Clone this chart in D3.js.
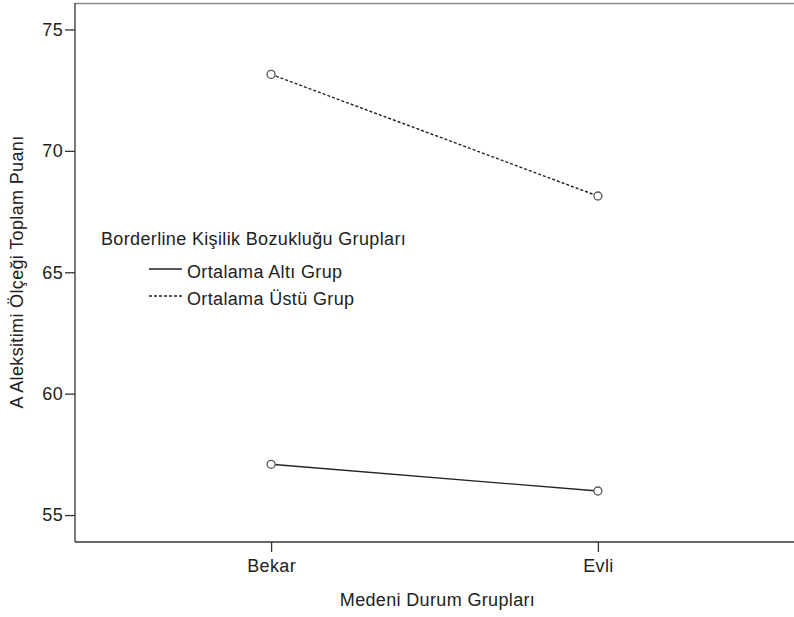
<!DOCTYPE html>
<html><head><meta charset="utf-8">
<script src="https://cdn.jsdelivr.net/npm/d3@7"></script>
<style>body{margin:0;background:#fff}svg{display:block}text{font-family:"Liberation Sans",Arial,sans-serif;fill:#222;letter-spacing:0.35px}</style>
</head><body><svg id="c" width="794" height="617"></svg>
<script>
const categories = ["Bekar", "Evli"];
const seriesNames = ["Ortalama Altı Grup", "Ortalama Üstü Grup"];
const altiValues = [57.09, 55.99];
const ustuValues = [73.15, 68.14];
const yTicks = [55, 60, 65, 70, 75];
const legendTitle = "Borderline Kişilik Bozukluğu Grupları";
const xTitle = "Medeni Durum Grupları";
const yTitle = "A Aleksitimi Ölçeği Toplam Puanı";

const FS = 18;
const svg = d3.select("#c");
const L = 75, R = 794, T = 3, B = 542;
const x = d3.scalePoint().domain(categories).range([L, R]).padding(0.6);
const y = d3.scaleLinear().domain([53.89, 76.09]).range([B, T]);

// top border
svg.append("line").attr("x1", L).attr("x2", R).attr("y1", T + 0.5).attr("y2", T + 0.5)
  .attr("stroke", "#888").attr("stroke-width", 1.5);

const ya = svg.append("g").attr("transform", `translate(${L},0)`)
  .call(d3.axisLeft(y).tickValues(yTicks).tickSize(10).tickPadding(2).tickSizeOuter(0));
const xa = svg.append("g").attr("transform", `translate(0,${B})`)
  .call(d3.axisBottom(x).tickSize(10).tickPadding(5).tickSizeOuter(0));
[ya, xa].forEach(g => {
  g.attr("font-size", FS);
  g.select(".domain").attr("stroke", "#333").attr("stroke-width", 1.3);
  g.selectAll(".tick line").attr("stroke", "#333").attr("stroke-width", 1.3);
  g.selectAll(".tick text").attr("font-size", FS).attr("fill", "#333")
    .style("font-family", '"Liberation Sans",Arial,sans-serif');
});
xa.selectAll(".tick text").attr("dy", null).attr("y", 30);
ya.select(".domain").attr("d", `M0,${T}V${B}`);
xa.select(".domain").attr("d", `M${L},0H${R}`);

svg.append("text").attr("x", 437.5).attr("y", 606).attr("text-anchor", "middle")
  .attr("font-size", FS).text(xTitle);
svg.append("text").attr("transform", `translate(23,272) rotate(-90)`)
  .attr("text-anchor", "middle").attr("font-size", FS).text(yTitle);

const series = [
  { name: seriesNames[0], vals: altiValues, dash: null },
  { name: seriesNames[1], vals: ustuValues, dash: "3,2" }
];
const line = d3.line().x((d, i) => x(categories[i])).y(d => y(d));
series.forEach(s => {
  svg.append("path").attr("d", line(s.vals)).attr("fill", "none")
    .attr("stroke", "#222").attr("stroke-width", 1.4)
    .attr("stroke-dasharray", s.dash);
  svg.selectAll(null).data(s.vals).enter().append("circle")
    .attr("cx", (d, i) => x(categories[i])).attr("cy", d => y(d)).attr("r", 4)
    .attr("fill", "#fff").attr("stroke", "#555").attr("stroke-width", 1.3);
});

// legend
svg.append("text").attr("x", 101).attr("y", 245).attr("font-size", FS).text(legendTitle);
series.forEach((s, i) => {
  const ly = 269 + i * 27;
  svg.append("line").attr("x1", 149).attr("x2", 182).attr("y1", ly).attr("y2", ly)
    .attr("stroke", "#222").attr("stroke-width", 1.4).attr("stroke-dasharray", s.dash);
  svg.append("text").attr("x", 187).attr("y", ly + 9).attr("font-size", FS).text(s.name);
});
</script></body></html>
